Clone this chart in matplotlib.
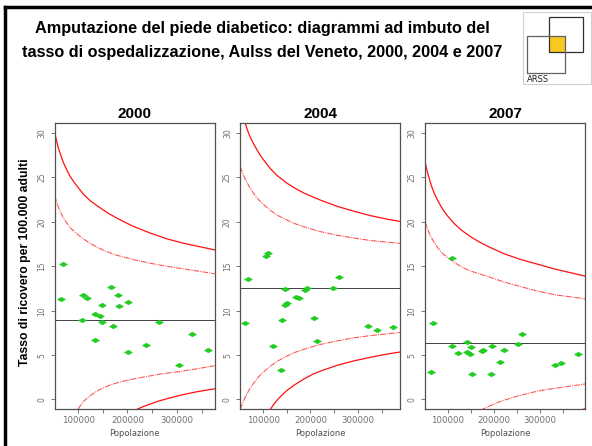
import matplotlib
matplotlib.use("Agg")
import matplotlib.pyplot as plt
from matplotlib.lines import Line2D
from matplotlib.patches import Rectangle
from matplotlib.ticker import MultipleLocator, FuncFormatter

FONT = ["Liberation Sans", "DejaVu Sans"]

title_lines = ["Amputazione del piede diabetico: diagrammi ad imbuto del",
               "tasso di ospedalizzazione, Aulss del Veneto, 2000, 2004 e 2007"]
y_label = "Tasso di ricovero per 100.000 adulti"
x_label = "Popolazione"
years = ["2000", "2004", "2007"]

# tasso medio regionale (linea orizzontale)
rate_2000 = 9.0
rate_2004 = 12.55
rate_2007 = 6.35

# Aulss: popolazione e tasso
pop_2000 = [68400, 64300, 109500, 118300, 165700, 180500, 201400, 148700, 182600, 133900,
            143400, 107500, 147500, 169800, 263100, 330600, 134500, 236700, 201400, 363700, 303700]
tax_2000 = [15.3, 11.35, 11.8, 11.42, 12.7, 11.72, 10.97, 10.6, 10.48, 9.66,
            9.39, 8.94, 8.72, 8.31, 8.72, 7.37, 6.7, 6.1, 5.39, 5.62, 3.93]

pop_2004 = [68300, 261300, 147100, 188000, 192000, 248000, 170400, 176100, 150700, 145900,
            207200, 62600, 140200, 322000, 339500, 373400, 121100, 213500, 137400, 106300, 110600]
tax_2004 = [13.59, 13.78, 12.47, 12.3, 12.5, 12.61, 11.57, 11.42, 10.92, 10.66,
            9.23, 8.56, 8.94, 8.33, 7.88, 8.11, 6.01, 6.61, 3.34, 16.2, 16.5]

pop_2007 = [67600, 259800, 141000, 252500, 109300, 150300, 195700, 221000, 174100, 176900,
            141000, 122900, 148200, 382100, 213600, 344700, 331700, 63900, 152500, 194200, 108600]
tax_2007 = [8.56, 7.32, 6.46, 6.27, 6.01, 5.93, 6.05, 5.6, 5.41, 5.52,
            5.37, 5.22, 5.07, 5.11, 4.25, 4.13, 3.87, 3.15, 2.82, 2.89, 15.96]

# limiti dell'imbuto (solido = esterno, tratteggiato = interno)
up99_pop_2000 = [52700, 56000, 60000, 65000, 70000, 76500, 84000, 93300, 110100, 125000, 144000,
                 160000, 177900, 195000, 211600, 245400, 279300, 313000, 346900, 376300]
up99_val_2000 = [29.96, 29.2, 28.3, 27.5, 26.7, 25.9, 25.1, 24.35, 23.15, 22.35, 21.6,
                 21.0, 20.45, 19.95, 19.5, 18.75, 18.1, 17.6, 17.2, 16.85]
up95_pop_2000 = [52700, 56000, 60000, 65000, 70000, 76500, 84000, 93300, 110100, 125000, 144000,
                 160000, 177900, 211600, 245400, 279300, 326600, 376300]
up95_val_2000 = [22.95, 22.3, 21.65, 21.0, 20.45, 19.9, 19.35, 18.85, 18.1, 17.55, 17.0,
                 16.6, 16.25, 15.75, 15.35, 15.0, 14.6, 14.16]
lo95_pop_2000 = [100000, 105000, 110100, 120000, 130400, 143000, 157600, 177000, 198200,
                 220000, 245400, 270000, 299600, 340200, 376300]
lo95_val_2000 = [-1.09, -0.65, -0.27, 0.25, 0.67, 1.1, 1.48, 1.85, 2.15,
                 2.4, 2.65, 2.9, 3.1, 3.45, 3.8]
lo99_pop_2000 = [219700, 232000, 245400, 262000, 279300, 313000, 345000, 376300]
lo99_val_2000 = [-1.09, -0.8, -0.52, -0.2, 0.08, 0.56, 0.92, 1.2]

up99_pop_2004 = [62600, 67000, 73200, 80000, 87300, 94000, 101500, 115400, 130000, 150700,
                 167000, 186000, 221100, 256400, 291800, 326800, 362200, 389600]
up99_val_2004 = [31.1, 30.35, 29.5, 28.8, 28.1, 27.5, 26.95, 26.0, 25.2, 24.35,
                 23.8, 23.25, 22.45, 21.75, 21.2, 20.7, 20.3, 20.05]
up95_pop_2004 = [52000, 56000, 61000, 66200, 72000, 80300, 88000, 97900, 115400, 130000, 150700,
                 167000, 186000, 221100, 256400, 291800, 326800, 389600]
up95_val_2004 = [26.2, 25.6, 25.0, 24.45, 23.85, 23.2, 22.65, 22.1, 21.3, 20.75, 20.2,
                 19.8, 19.45, 18.9, 18.5, 18.18, 17.9, 17.58]
lo95_pop_2004 = [52000, 56000, 61000, 66200, 72000, 80300, 88000, 97900, 115400, 130000, 150700,
                 167000, 186000, 221100, 256400, 291800, 326800, 389600]
lo95_val_2004 = [-1.1, -0.5, 0.1, 0.65, 1.2, 1.85, 2.4, 2.95, 3.75, 4.3, 4.9,
                 5.3, 5.65, 6.2, 6.6, 6.95, 7.2, 7.55]
lo99_pop_2004 = [115400, 122000, 130000, 140000, 150000, 165000, 186000, 205000, 221100,
                 256400, 291800, 326800, 360000, 389600]
lo99_val_2004 = [-1.1, -0.6, -0.05, 0.5, 1.0, 1.6, 2.3, 2.85, 3.2,
                 3.85, 4.35, 4.75, 5.1, 5.35]

up99_pop_2007 = [51000, 55000, 60300, 65000, 71100, 78000, 85500, 92000, 100000, 114300, 130000,
                 150300, 168000, 186400, 222200, 258300, 300000, 330200, 359200, 396500]
up99_val_2007 = [26.8, 25.85, 24.85, 24.05, 23.2, 22.45, 21.75, 21.2, 20.65, 19.8, 19.05,
                 18.3, 17.75, 17.25, 16.4, 15.75, 15.15, 14.7, 14.35, 13.9]
up95_pop_2007 = [51000, 55000, 60000, 64000, 70000, 78400, 88000, 100000, 121600, 135000, 150300,
                 186400, 222200, 258300, 294400, 330200, 396500]
up95_val_2007 = [20.05, 19.4, 18.75, 18.3, 17.75, 17.1, 16.5, 15.95, 15.2, 14.8, 14.45,
                 13.85, 13.22, 12.7, 12.2, 11.8, 11.34]
lo95_pop_2007 = [170400, 185000, 200600, 215000, 229600, 258300, 294400, 330200, 365000, 396500]
lo95_val_2007 = [-1.24, -0.85, -0.5, -0.2, 0.05, 0.5, 0.95, 1.25, 1.5, 1.75]
lo99_pop_2007 = [386000, 396500]
lo99_val_2007 = [-1.2, -1.05]

panels = [
    (years[0], rate_2000, pop_2000, tax_2000,
     [(up99_pop_2000, up99_val_2000), (lo99_pop_2000, lo99_val_2000)],
     [(up95_pop_2000, up95_val_2000), (lo95_pop_2000, lo95_val_2000)],
     (52100, 376300), 54.5),
    (years[1], rate_2004, pop_2004, tax_2004,
     [(up99_pop_2004, up99_val_2004), (lo99_pop_2004, lo99_val_2004)],
     [(up95_pop_2004, up95_val_2004), (lo95_pop_2004, lo95_val_2004)],
     (52000, 389600), 240.3),
    (years[2], rate_2007, pop_2007, tax_2007,
     [(up99_pop_2007, up99_val_2007), (lo99_pop_2007, lo99_val_2007)],
     [(up95_pop_2007, up95_val_2007), (lo95_pop_2007, lo95_val_2007)],
     (51000, 396500), 425.0),
]

# rombo schiacciato come i punti del grafico originale
diamond = [(-1, 0), (0, 0.6), (1, 0), (0, -0.6), (-1, 0)]

W, H = 592, 446
fig = plt.figure(figsize=(W / 100, H / 100), dpi=100)

tick_col = "#707070"
for name, rate, pops, taxes, outer, inner, xl, left_px in panels:
    ax = fig.add_axes([left_px / W, 1 - 409 / H, 160 / W, 285.7 / H])
    for px, py in outer:
        ax.plot(px, py, color="#ff1010", lw=0.9)
    for px, py in inner:
        ax.plot(px, py, color="#ff5555", lw=0.8, ls=(0, (5, 1, 1, 1)))
    ax.axhline(rate, color="#404040", lw=0.7)
    ax.plot(pops, taxes, ls="none", marker=diamond, ms=5.8, color="#22cc22", mec="#22cc22", mew=0.3)
    ax.set_xlim(*xl)
    ax.set_ylim(-1.07, 31.1)
    ax.xaxis.set_major_locator(MultipleLocator(50000))
    ax.xaxis.set_major_formatter(FuncFormatter(lambda v, p: "%d" % v if v % 100000 == 0 else ""))
    ax.yaxis.set_major_locator(MultipleLocator(5))
    ax.tick_params(axis="both", length=3, width=0.6, color="#606060", labelcolor=tick_col)
    ax.tick_params(axis="x", pad=2, labelsize=6.2)
    ax.tick_params(axis="y", pad=3, labelsize=5.5)
    for lab in ax.get_yticklabels():
        lab.set_rotation(90)
        lab.set_va("center")
    for s in ax.spines.values():
        s.set_color("#505050")
        s.set_linewidth(0.9)
    ax.set_xlabel(x_label, fontsize=6, color="#505050", labelpad=3)
    ax.set_title(name, fontsize=11, fontweight="bold", family=FONT, pad=4)

fig.text(25 / W, 1 - 262 / H, y_label, rotation=90, ha="center", va="center",
         fontsize=8.8, fontweight="bold", family=FONT)

fig.text(262 / W, 1 - 29 / H, title_lines[0], ha="center", va="center",
         fontsize=11.7, fontweight="bold", family=FONT)
fig.text(262 / W, 1 - 52.5 / H, title_lines[1], ha="center", va="center",
         fontsize=11.7, fontweight="bold", family=FONT)

# cornice della diapositiva
fig.add_artist(Line2D([5 / W, 1], [1 - 7 / H, 1 - 7 / H], color="black", lw=2.5))
fig.add_artist(Line2D([5 / W, 5 / W], [0, 1 - 7 / H], color="black", lw=2.5))

# logo ARSS
fig.add_artist(Rectangle((523 / W, 1 - 84 / H), 68 / W, 72 / H, fill=False, ec="#d0d0d0", lw=0.8))
fig.add_artist(Rectangle((549 / W, 1 - 52 / H), 16 / W, 16 / H, fc="#f7c91e", ec="none"))
fig.add_artist(Rectangle((549 / W, 1 - 52 / H), 34 / W, 35 / H, fill=False, ec="#303030", lw=0.9))
fig.add_artist(Rectangle((527 / W, 1 - 73 / H), 38 / W, 37 / H, fill=False, ec="#606060", lw=0.9))
fig.text(527 / W, 1 - 79 / H, "ARSS", fontsize=6, va="center", ha="left", color="#202020")

fig.savefig("out.png", dpi=100)
